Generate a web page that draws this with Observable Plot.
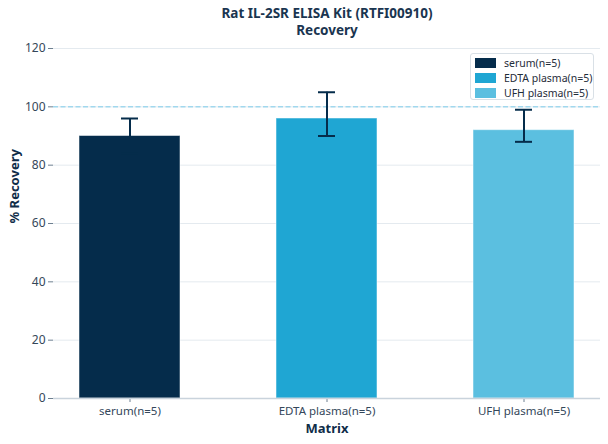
<!DOCTYPE html>
<html>
<head>
<meta charset="utf-8">
<script src="https://cdn.jsdelivr.net/npm/d3@7"></script>
<script src="https://cdn.jsdelivr.net/npm/@observablehq/plot@0.6"></script>
<style>
  body { margin: 0; background: #fff; font-family: "Noto Sans", sans-serif; }
  #wrap { position: relative; width: 608px; height: 444px; }
  #legend { position: absolute; left: 470px; top: 53px; width: 124px; height: 47px;
    border: 1px solid #d9e0e6; border-radius: 3px; background: #fff; box-sizing: border-box;
    font-size: 10.5px; color: #1f2d3a; }
  .row { position: absolute; left: 4px; height: 12px; display: flex; align-items: center; }
  .sw { width: 21px; height: 10px; margin-right: 8px; }
</style>
</head>
<body>
<div id="wrap"><div id="legend"></div></div>
<script>
const categories = ["serum(n=5)", "EDTA plasma(n=5)", "UFH plasma(n=5)"];
const recovery = [90, 96, 92];
const errLow = [84, 90, 88];
const errHigh = [96, 105, 99];
const colors = ["#052c4b", "#1fa6d3", "#5bbfe0"];
const yTicks = [0, 20, 40, 60, 80, 100, 120];
const titleLines = ["Rat IL-2SR ELISA Kit (RTFI00910)", "Recovery"];

const data = categories.map((c, i) => ({c, v: recovery[i], lo: errLow[i], hi: errHigh[i]}));
const errColor = "#052c4b";

const chart = Plot.plot({
  width: 608, height: 444,
  marginLeft: 53, marginRight: 8, marginTop: 48, marginBottom: 46,
  style: {fontFamily: "Noto Sans", fontSize: "12px", color: "#34475a", background: "#fff"},
  x: {domain: categories, paddingInner: 0.488, paddingOuter: 0.132, label: null, tickSize: 4},
  y: {domain: [0, 120], ticks: yTicks, label: null, tickSize: 5},
  color: {domain: categories, range: colors},
  marks: [
    Plot.gridY(yTicks, {stroke: "#e4eaef", strokeOpacity: 1}),
    Plot.barY(data, {x: "c", y: "v", fill: "c", stroke: "#ffffff", strokeOpacity: 0.5, strokeWidth: 1}),
    Plot.ruleY([100], {stroke: "#7ccbea", strokeDasharray: "5,2.5", strokeWidth: 1}),
    Plot.ruleX(data, {x: "c", y1: "lo", y2: "hi", stroke: errColor, strokeWidth: 2}),
    Plot.tickY(data, {x: "c", y: "lo", stroke: errColor, strokeWidth: 2, insetLeft: 42, insetRight: 42}),
    Plot.tickY(data, {x: "c", y: "hi", stroke: errColor, strokeWidth: 2, insetLeft: 42, insetRight: 42}),
    Plot.axisY(yTicks, {tickSize: 5, stroke: "#6d7f90", fill: "#34475a", fontSize: 12, label: null, tickPadding: 3}),
    Plot.axisX({tickSize: 4, stroke: "#6d7f90", fill: "#34475a", fontSize: 11.5, label: null, tickPadding: 4}),
    Plot.ruleX([0], {frameAnchor: "left", stroke: "#c9d3dc", strokeWidth: 1}),
    Plot.ruleY([0], {stroke: "#c9d3dc", strokeWidth: 1.5}),
    Plot.text(["Matrix"], {frameAnchor: "bottom", lineAnchor: "middle", dy: 30, fontWeight: "bold", fontSize: 13, fill: "#0f2c48"}),
    Plot.text(["% Recovery"], {frameAnchor: "left", lineAnchor: "middle", dx: -39, rotate: -90, fontWeight: "bold", fontSize: 13, fill: "#0f2c48"}),
    Plot.text([titleLines[0]], {frameAnchor: "top", lineAnchor: "middle", dy: -34.5, fontWeight: "bold", fontSize: 13.5, fill: "#1a3550"}),
    Plot.text([titleLines[1]], {frameAnchor: "top", lineAnchor: "middle", dy: -18, fontWeight: "bold", fontSize: 13.5, fill: "#1a3550"})
  ]
});
const wrap = document.getElementById("wrap");
wrap.insertBefore(chart, wrap.firstChild);

const legend = document.getElementById("legend");
categories.forEach((c, i) => {
  const row = document.createElement("div");
  row.className = "row";
  row.style.top = (3 + i * 15) + "px";
  const sw = document.createElement("div");
  sw.className = "sw";
  sw.style.background = colors[i];
  const t = document.createElement("span");
  t.textContent = c;
  row.appendChild(sw); row.appendChild(t);
  legend.appendChild(row);
});
</script>
</body>
</html>
